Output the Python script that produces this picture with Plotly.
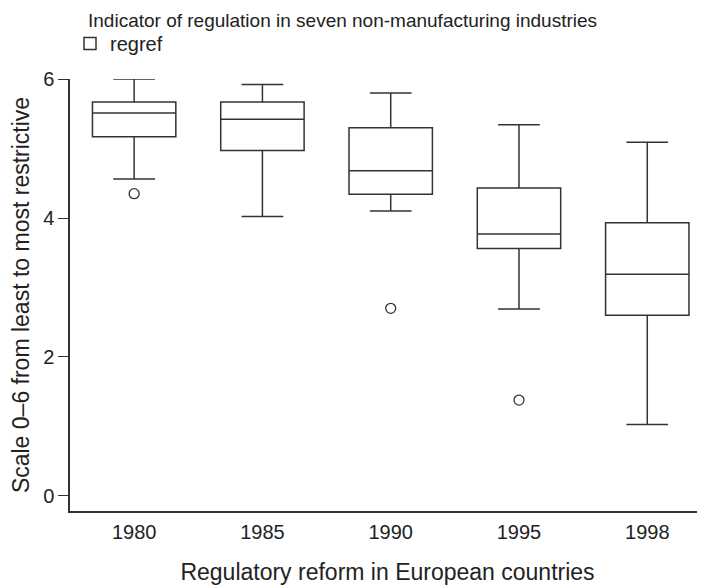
import plotly.graph_objects as go

years = ["1980", "1985", "1990", "1995", "1998"]
q1 = [5.17, 4.97, 4.34, 3.56, 2.60]
median = [5.51, 5.42, 4.68, 3.77, 3.19]
q3 = [5.67, 5.67, 5.30, 4.43, 3.93]
lower_fence = [4.56, 4.02, 4.10, 2.69, 1.03]
upper_fence = [6.00, 5.92, 5.80, 5.34, 5.09]

outlier_years = ["1980", "1990", "1995"]
outlier_values = [4.35, 2.70, 1.38]

line_col = "#333333"
text_col = "#222222"
font_family = "Liberation Sans, Arial, sans-serif"

# page body has an 8px margin, so the figure is 8px smaller each way
W, H = 697, 578
ml, mt, mb = 62, 71, 75
plot_h = H - mt - mb
plot_w = W - ml

fig = go.Figure()

fig.add_trace(go.Box(
    x=years,
    q1=q1,
    median=median,
    q3=q3,
    lowerfence=lower_fence,
    upperfence=upper_fence,
    name="regref",
    fillcolor="white",
    line=dict(color=line_col, width=1.5),
    width=0.65,
    whiskerwidth=0.5,
    boxpoints=False,
))

fig.add_trace(go.Scatter(
    x=outlier_years,
    y=outlier_values,
    mode="markers",
    marker=dict(symbol="circle-open", size=10, color=line_col, line=dict(width=1.3)),
    showlegend=False,
    hoverinfo="skip",
))

fig.add_annotation(
    text="Indicator of regulation in seven non-manufacturing industries",
    xref="paper", yref="paper",
    x=(78 - ml) / plot_w, y=1 + mt / plot_h,
    xanchor="left", yanchor="top",
    showarrow=False,
    font=dict(size=19, color=text_col),
)

fig.update_layout(
    width=W,
    height=H,
    margin=dict(l=ml, r=0, t=mt, b=mb, autoexpand=False),
    plot_bgcolor="white",
    paper_bgcolor="white",
    font=dict(family=font_family, color=text_col, size=18),
    showlegend=True,
    legend=dict(
        font=dict(size=20, color=text_col),
        x=(62 - ml) / plot_w,
        y=1 + (mt - 16) / plot_h,
        xanchor="left",
        yanchor="top",
        bgcolor="rgba(0,0,0,0)",
        itemwidth=30,
    ),
    xaxis=dict(
        type="category",
        categoryorder="array",
        categoryarray=years,
        range=[-0.5, 4.45],
        showline=True,
        linecolor=line_col,
        linewidth=1.5,
        ticks="",
        ticklabelstandoff=2,
        tickangle=0,
        tickfont=dict(size=20, color=text_col),
        showgrid=False,
        zeroline=False,
        title=dict(
            text="Regulatory reform in European countries",
            font=dict(size=23, color=text_col),
            standoff=22,
        ),
    ),
    yaxis=dict(
        range=[-0.216, 6.0],
        tickvals=[0, 2, 4, 6],
        showline=True,
        linecolor=line_col,
        linewidth=1.5,
        ticks="outside",
        ticklen=10,
        tickwidth=1.2,
        tickcolor=line_col,
        tickfont=dict(size=20, color=text_col),
        showgrid=False,
        zeroline=False,
        title=dict(
            text="Scale 0\u20136 from least to most restrictive",
            font=dict(size=23, color=text_col),
        ),
    ),
)

fig.write_html("out.html")
